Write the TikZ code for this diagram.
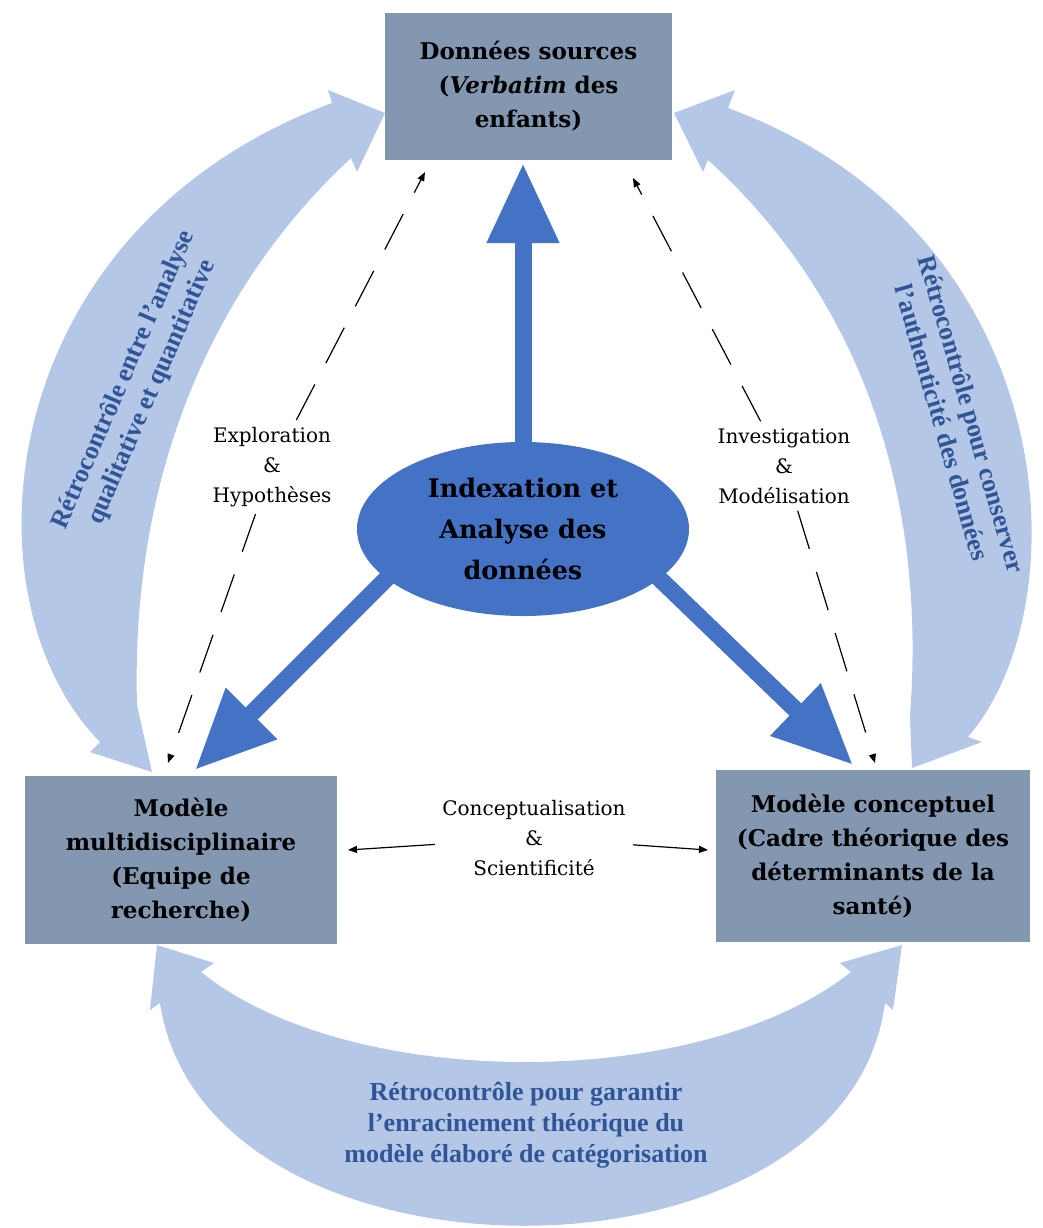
\documentclass[tikz,border=0pt]{standalone}
\usepackage{fontspec}
\setmainfont{DejaVu Serif}
\newfontfamily\loopfont{Liberation Serif}
\usetikzlibrary{shapes.geometric,arrows.meta}

\definecolor{boxgray}{RGB}{132,151,176}
\definecolor{coreblue}{RGB}{68,114,196}
\definecolor{loopblue}{RGB}{180,199,231}
\definecolor{looptext}{RGB}{47,85,151}

\tikzset{
  block/.style={fill=boxgray, align=center, inner sep=0pt, font=\bfseries\fontsize{23}{34}\selectfont},
  core/.style={ellipse, fill=coreblue, inner sep=0pt, minimum width=332pt, minimum height=174pt, align=center, font=\bfseries\fontsize{25.5}{41}\selectfont},
  linklabel/.style={align=center, inner sep=7pt, font=\fontsize{20}{30}\selectfont},
  looplabel/.style={align=center, text=looptext, font=\loopfont\bfseries\fontsize{26}{31}\selectfont},
  bigarrow/.style={draw=coreblue, line width=17pt, -{Triangle[length=80pt,width=68pt]}},
  probe/.style={draw, line width=1.2pt, dash pattern=on 40pt off 24pt, -{Triangle[length=9pt,width=7pt]}},
  link/.style={draw, line width=1.2pt, -{Triangle[length=9pt,width=7pt]}}
}

\begin{document}
\begin{tikzpicture}[x=1pt,y=1pt,yscale=-1]
\useasboundingbox (0,0) rectangle (1042,1228);

% feedback loops
\fill[loopblue] (152,772) -- (90,752) -- (100,742) .. controls (-40,600) and (-10,230) .. (332,103)
   -- (328,90) -- (385,113) -- (357,172) -- (351,158) .. controls (230,270) and (130,450) .. (137,705) -- cycle;
\fill[loopblue] (912,768) -- (982,742) -- (968,737) .. controls (1085,600) and (1060,230) .. (728,108)
   -- (735,90) -- (674,113) -- (703,172) -- (708,160) .. controls (830,270) and (930,450) .. (910,716) -- cycle;
\fill[loopblue] (160,1003) .. controls (205,1300) and (845,1300) .. (885,1003) -- (893,1010) -- (902,945)
   -- (840,963) -- (851,972) .. controls (700,1092) and (350,1092) .. (201,972) -- (214,963) -- (157,945)
   -- (150,1010) -- cycle;

\node[looplabel, rotate=66.5] (fbleft) at (138,386) {Rétrocontrôle entre l’analyse\\qualitative et quantitative};
\node[looplabel, rotate=-74] (fbright) at (957,418) {Rétrocontrôle pour conserver\\l’authenticité des données};
\node[looplabel] (fbbottom) at (526,1125) {Rétrocontrôle pour garantir\\l’enracinement théorique du\\modèle élaboré de catégorisation};

% core and thick arrows
\node[core] (core) at (523,529) {Indexation et\\Analyse des\\données};
\coordinate (tipup) at (523,163);
\coordinate (tipleft) at (195,770);
\coordinate (tipright) at (853,765);
\draw[bigarrow, shorten <=-12pt] (core.north) -- (tipup);
\draw[bigarrow, shorten <=-20pt] (core.200) -- (tipleft);
\draw[bigarrow, shorten <=-20pt] (core.340) -- (tipright);

% boxes
\node[block, minimum width=287pt, minimum height=147pt] (src) at (528.5,86.5) {Données sources\\(\textit{Verbatim} des\\enfants)};
\node[block, minimum width=312pt, minimum height=168pt] (mmod) at (181,860) {Modèle\\multidisciplinaire\\(Equipe de\\recherche)};
\node[block, minimum width=314pt, minimum height=172pt] (mcon) at (873,856) {Modèle conceptuel\\(Cadre théorique des\\déterminants de la\\santé)};

% thin links
\node[linklabel] (explo) at (272,467) {Exploration\\\&\\Hypothèses};
\node[linklabel] (invest) at (784,466) {Investigation\\\&\\Modélisation};
\node[linklabel] (concept) at (534,838) {Conceptualisation\\\&\\Scientificité};

\coordinate (srcleft) at (425,172);
\coordinate (srcright) at (633,178);
\coordinate (mmodtop) at (168,763);
\coordinate (mcontop) at (875,763);
\coordinate (mmodside) at (348,850);
\coordinate (mconside) at (708,850);

\draw[probe] (explo) -- (srcleft);
\draw[probe] (explo) -- (mmodtop);
\draw[probe] (invest) -- (srcright);
\draw[probe] (invest) -- (mcontop);
\draw[link] (concept) -- (mmodside);
\draw[link] (concept) -- (mconside);
\end{tikzpicture}
\end{document}
